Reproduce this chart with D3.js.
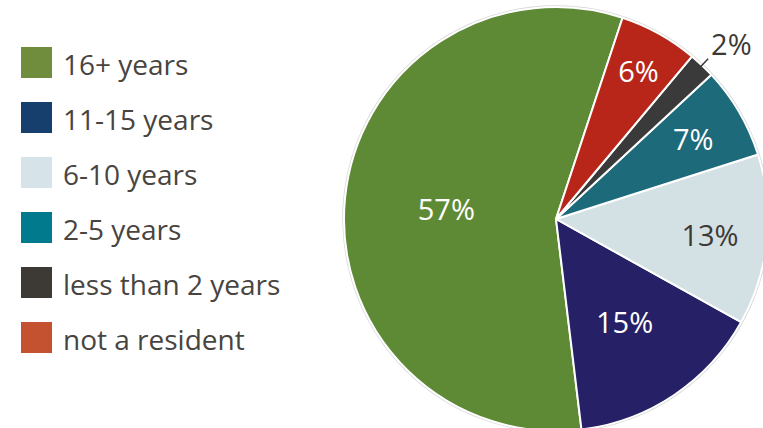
<!DOCTYPE html>
<html>
<head>
<meta charset="utf-8">
<script src="https://cdn.jsdelivr.net/npm/d3@7"></script>
<style>
  html, body { margin: 0; padding: 0; background: #ffffff; }
  svg { display: block; font-family: "Open Sans", "Lato", sans-serif; }
</style>
</head>
<body>
<svg id="chart" width="763" height="428"></svg>
<script>
// Length of residence
const categories = ["16+ years", "11-15 years", "6-10 years", "2-5 years", "less than 2 years", "not a resident"];
const shares = [57, 15, 13, 7, 2, 6];
const valueLabels = ["57%", "15%", "13%", "7%", "2%", "6%"];

const sliceColors = ["#5f8a35", "#262166", "#d3e0e4", "#1c6a7a", "#3a3a3a", "#b8261a"];
const legendColors = ["#6f8d3c", "#163f6e", "#d6e4ea", "#007a8c", "#3d3935", "#c4512f"];
const labelColors = ["#ffffff", "#ffffff", "#3d3935", "#ffffff", "#3d3935", "#ffffff"];
// distance of each label from the centre, as a fraction of the radius
const labelRadiusFrac = [0.52, 0.58, 0.73, 0.75, 1.14, 0.8];

const svg = d3.select("#chart");
const cx = 556, cy = 219, radius = 212;

const rows = categories.map((c, i) => ({ name: c, value: shares[i], label: valueLabels[i], i }));

// slices run counter-clockwise from just right of twelve o'clock
const offset = 18.3 * Math.PI / 180;
const pie = d3.pie().sort(null).value(d => d.value)
  .startAngle(offset + 2 * Math.PI).endAngle(offset);
const arcs = pie(rows);

const arc = d3.arc().innerRadius(0).outerRadius(radius);
const g = svg.append("g").attr("transform", `translate(${cx},${cy})`);

g.append("circle").attr("r", radius + 1).attr("fill", "none")
  .attr("stroke", "#d8d8d8").attr("stroke-width", 1.5);

g.selectAll("path.slice").data(arcs).join("path")
  .attr("class", "slice")
  .attr("d", arc)
  .attr("fill", d => sliceColors[d.data.i])
  .attr("stroke", "#ffffff").attr("stroke-width", 2).attr("stroke-linejoin", "round");

const isOutside = d => labelRadiusFrac[d.data.i] > 1;

function labelPos(d) {
  const r = radius * labelRadiusFrac[d.data.i];
  const a = (d.startAngle + d.endAngle) / 2;
  return [Math.sin(a) * r, -Math.cos(a) * r];
}

// leader line for the outside label
arcs.filter(isOutside).forEach(d => {
  const a = (d.startAngle + d.endAngle) / 2;
  g.append("line")
    .attr("x1", Math.sin(a) * (radius - 3)).attr("y1", -Math.cos(a) * (radius - 3))
    .attr("x2", Math.sin(a) * (radius + 9)).attr("y2", -Math.cos(a) * (radius + 9))
    .attr("stroke", "#3d3935").attr("stroke-width", 1.5);
});

g.selectAll("text.val").data(arcs).join("text")
  .attr("class", "val")
  .attr("x", d => labelPos(d)[0] + (isOutside(d) ? 9 : 0))
  .attr("y", d => labelPos(d)[1])
  .attr("text-anchor", "middle")
  .attr("dominant-baseline", "central")
  .attr("font-size", 29)
  .attr("fill", d => labelColors[d.data.i])
  .text(d => d.data.label);

// legend
const legendY = d3.scalePoint().domain(categories).range([62, 337]);
const legend = svg.append("g");
const items = legend.selectAll("g").data(rows).join("g")
  .attr("transform", d => `translate(21,${legendY(d.name)})`);
items.append("rect").attr("x", 0).attr("y", -15).attr("width", 31).attr("height", 31)
  .attr("fill", d => legendColors[d.i]);
items.append("text").attr("x", 42).attr("y", 2)
  .attr("dominant-baseline", "central")
  .attr("font-size", 28).attr("fill", "#48443f")
  .text(d => d.name);
</script>
</body>
</html>
